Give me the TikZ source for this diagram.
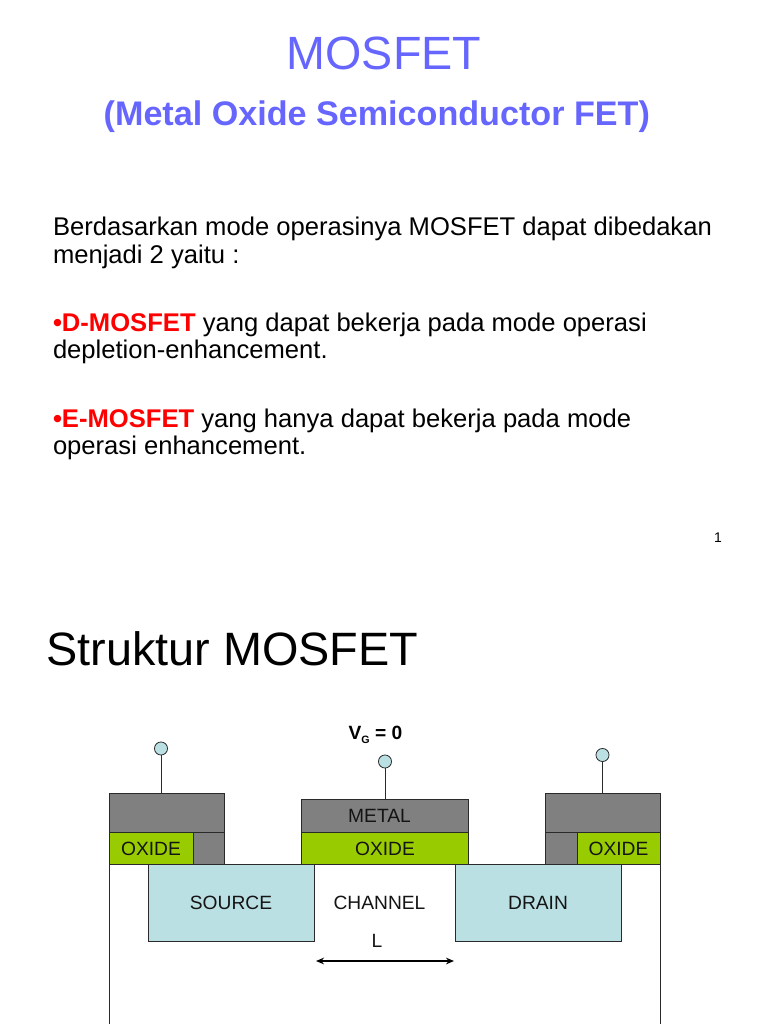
\documentclass[tikz,border=0pt]{standalone}
\usepackage{fontspec}
\usetikzlibrary{arrows.meta}
\setmainfont{Liberation Sans}
\definecolor{titleblue}{HTML}{6666FF}
\definecolor{metalgray}{HTML}{808080}
\definecolor{oxidegreen}{HTML}{99CC00}
\definecolor{regionblue}{HTML}{BBE0E3}
\definecolor{edgegray}{HTML}{2A2A2A}
\newcommand{\fs}[1]{\fontsize{#1}{#1}\selectfont}
\tikzset{
  x=0.75pt,y=-0.75pt,
  txt/.style={inner sep=0pt,outer sep=0pt,anchor=base west},
  ctr/.style={inner sep=0pt,outer sep=0pt,anchor=base},
  body/.style={txt,font=\fs{19.2}},
  label/.style={ctr,font=\fs{14.4},text=black!92},
  layer/.style={draw=edgegray,line width=0.75pt},
  metal/.style={layer,fill=metalgray},
  oxide/.style={layer,fill=oxidegreen},
  region/.style={layer,fill=regionblue,minimum width=124.75pt,minimum height=57.75pt,inner sep=0pt,outer sep=0pt},
  pin/.style={circle,draw=edgegray,fill=regionblue,line width=0.6pt,minimum size=9.8pt,inner sep=0pt},
  wire/.style={draw=edgegray,line width=0.75pt}
}
\begin{document}
\begin{tikzpicture}
\useasboundingbox (0,0) rectangle (768,1024);
\fill[white] (0,0) rectangle (768,1024);
% page 1
\node[ctr,font=\fs{35},text=titleblue] (title) at (384,69.5) {MOSFET};
\node[ctr,font=\fs{25.6}\bfseries,text=titleblue] (subtitle) at (376.8,125) {(Metal Oxide Semiconductor FET)};
\node[body] (t1) at (53,235) {Berdasarkan mode operasinya MOSFET dapat dibedakan};
\node[body] (t2) at (53,263) {menjadi 2 yaitu :};
\node[body] (t3) at (53,331) {\textcolor{red}{\textbf{•D-MOSFET}} yang dapat bekerja pada mode operasi};
\node[body] (t4) at (53,358.5) {depletion-enhancement.};
\node[body] (t5) at (53,427) {\textcolor{red}{\textbf{•E-MOSFET}} yang hanya dapat bekerja pada mode};
\node[body] (t6) at (53,454.5) {operasi enhancement.};
\node[ctr,font=\fs{10.5}] (pg) at (718,542) {1};
% page 2
\node[txt,font=\fs{35.1}] (head) at (46.5,665) {Struktur MOSFET};
% substrate
\coordinate (bl) at (109.5,1030);
\coordinate (br) at (660,1030);
\coordinate (tl) at (109.5,864);
\coordinate (tr) at (660,864);
\draw[wire] (bl) -- (tl) -- (tr) -- (br);
% source and drain
\node[region] (source) at (231.2,902.5) {};
\node[region] (drain) at (538.2,902.5) {};
% left stack
\draw[metal] (109.5,793.5) rectangle (224.7,832.5);
\draw[metal] (193,832.5) rectangle (224.7,864);
\draw[oxide] (109.5,832.5) rectangle (193,864);
% middle stack
\draw[metal] (301.5,799.5) rectangle (468,832.5);
\draw[oxide] (301.5,832.5) rectangle (468,864);
% right stack
\draw[metal] (545,793.5) rectangle (660,832.5);
\draw[metal] (545,832.5) rectangle (577,864);
\draw[oxide] (577,832.5) rectangle (660,864);
% pins
\node[pin] (p1) at (161,748.5) {};
\node[pin] (p2) at (385,761.5) {};
\node[pin] (p3) at (602.5,755) {};
\coordinate (m1) at (161,793.5);
\coordinate (m2) at (385,799.5);
\coordinate (m3) at (602.5,793.5);
\draw[wire] (p1) -- (m1);
\draw[wire] (p2) -- (m2);
\draw[wire] (p3) -- (m3);
% labels
\node[label] at (151,855) {OXIDE};
\node[label] at (385,855) {OXIDE};
\node[label] at (618.5,855) {OXIDE};
\node[label] at (379.5,822.5) {METAL};
\node[label] at (231,909.5) {SOURCE};
\node[label] at (538,909.5) {DRAIN};
\node[label] at (379.5,909.5) {CHANNEL};
\node[label] at (377,947) {L};
\node[ctr,font=\fs{14.4}\bfseries] (vg) at (375.5,739) {V\raisebox{-0.22em}{\fs{8}G} = 0};
\coordinate (la) at (316,961);
\coordinate (lb) at (454,961);
\draw[line width=1pt,black,{Stealth[length=6pt,width=5pt]}-{Stealth[length=6pt,width=5pt]}] (la) -- (lb);
\end{tikzpicture}
\end{document}
